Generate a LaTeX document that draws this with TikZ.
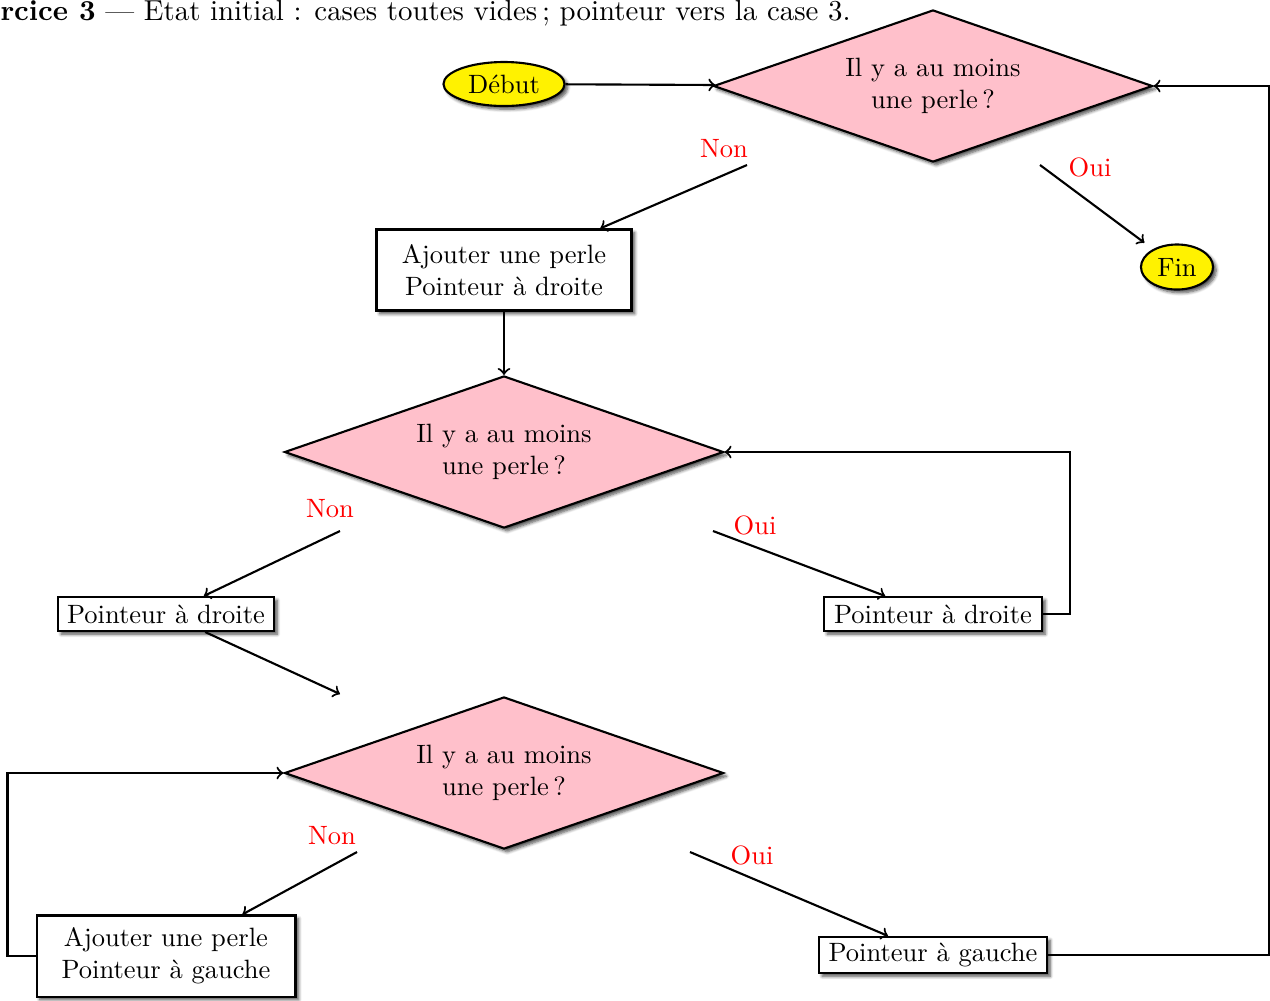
\documentclass[tikz,border=0pt]{standalone}
\usetikzlibrary{shapes.geometric,shadows,shadows.blur}
\definecolor{pinkfill}{RGB}{255,192,203}
\begin{document}
\begin{tikzpicture}[x=0.3774pt,y=-0.3774pt,
  shad/.style={blur shadow={shadow blur steps=6, shadow xshift=1.2pt, shadow yshift=-1.2pt, shadow blur radius=1.2pt, shadow opacity=70}},
  decision/.style={diamond, draw, thick, fill=pinkfill, shad, minimum width=165.7pt, minimum height=57.4pt, inner sep=0pt, align=center, aspect=2.9},
  term/.style={ellipse, draw, thick, fill=yellow, shad, inner sep=0pt},
  action/.style={rectangle, draw, thick, fill=white, shad, inner sep=0pt, align=center},
  lab/.style={text=red, inner sep=0pt},
  flow/.style={->, thick}]
\useasboundingbox (0,0) rectangle (1270,1000);

\node[anchor=base west, inner sep=0pt, font=\fontsize{10.9}{13}\selectfont] (title) at (0,20) {\textbf{rcice 3} --- Etat initial : cases toutes vides\,; pointeur vers la case 3.};

\node[term, minimum width=45.7pt, minimum height=16.6pt] (debut) at (504,84) {Début};
\node[decision] (d1) at (933,86) {Il y a au moins\\une perle\,?};
\node[term, minimum width=27.2pt, minimum height=17pt] (fin) at (1177,267) {Fin};
\node[action, minimum width=96.2pt, minimum height=30.6pt] (b1) at (504,270) {Ajouter une perle\\Pointeur à droite};
\node[decision] (d2) at (504,452) {Il y a au moins\\une perle\,?};
\node[action, minimum width=81.5pt, minimum height=12.8pt] (b2) at (166,614) {Pointeur à droite};
\node[action, minimum width=82.3pt, minimum height=12.8pt] (b3) at (933,614) {Pointeur à droite};
\node[decision] (d3) at (504,773) {Il y a au moins\\une perle\,?};
\node[action, minimum width=97.7pt, minimum height=30.6pt] (b4) at (166,956) {Ajouter une perle\\Pointeur à gauche};
\node[action, minimum width=86pt, minimum height=13.6pt] (b5) at (933,955) {Pointeur à gauche};

\coordinate (n1) at (747,165);
\coordinate (o1) at (1040,165);
\coordinate (n2) at (340,531);
\coordinate (o2) at (713,531);
\coordinate (n3) at (357,852);
\coordinate (o3) at (690,852);
\coordinate (e2) at (340,694);

\node[lab] (ln1) at (724,149) {Non};
\node[lab] (lo1) at (1090,167) {Oui};
\node[lab] (ln2) at (330,509) {Non};
\node[lab] (lo2) at (755,525) {Oui};
\node[lab] (ln3) at (332,836) {Non};
\node[lab] (lo3) at (752,855) {Oui};

\draw[flow] (debut) -- (d1);
\draw[flow] (n1) -- (b1);
\draw[flow, shorten >=4pt] (o1) -- (fin);
\draw[flow] (b1) -- (d2);
\draw[flow] (n2) -- (b2);
\draw[flow] (o2) -- (b3);
\draw[flow] (b3.east) -- ++(27,0) |- (d2.east);
\draw[flow] (b2) -- (e2);
\draw[flow] (n3) -- (b4);
\draw[flow] (o3) -- (b5);
\draw[flow] (b4.west) -- ++(-28,0) |- (d3.west);
\draw[flow] (b5.east) -- ++(221,0) |- (d1.east);
\end{tikzpicture}
\end{document}
